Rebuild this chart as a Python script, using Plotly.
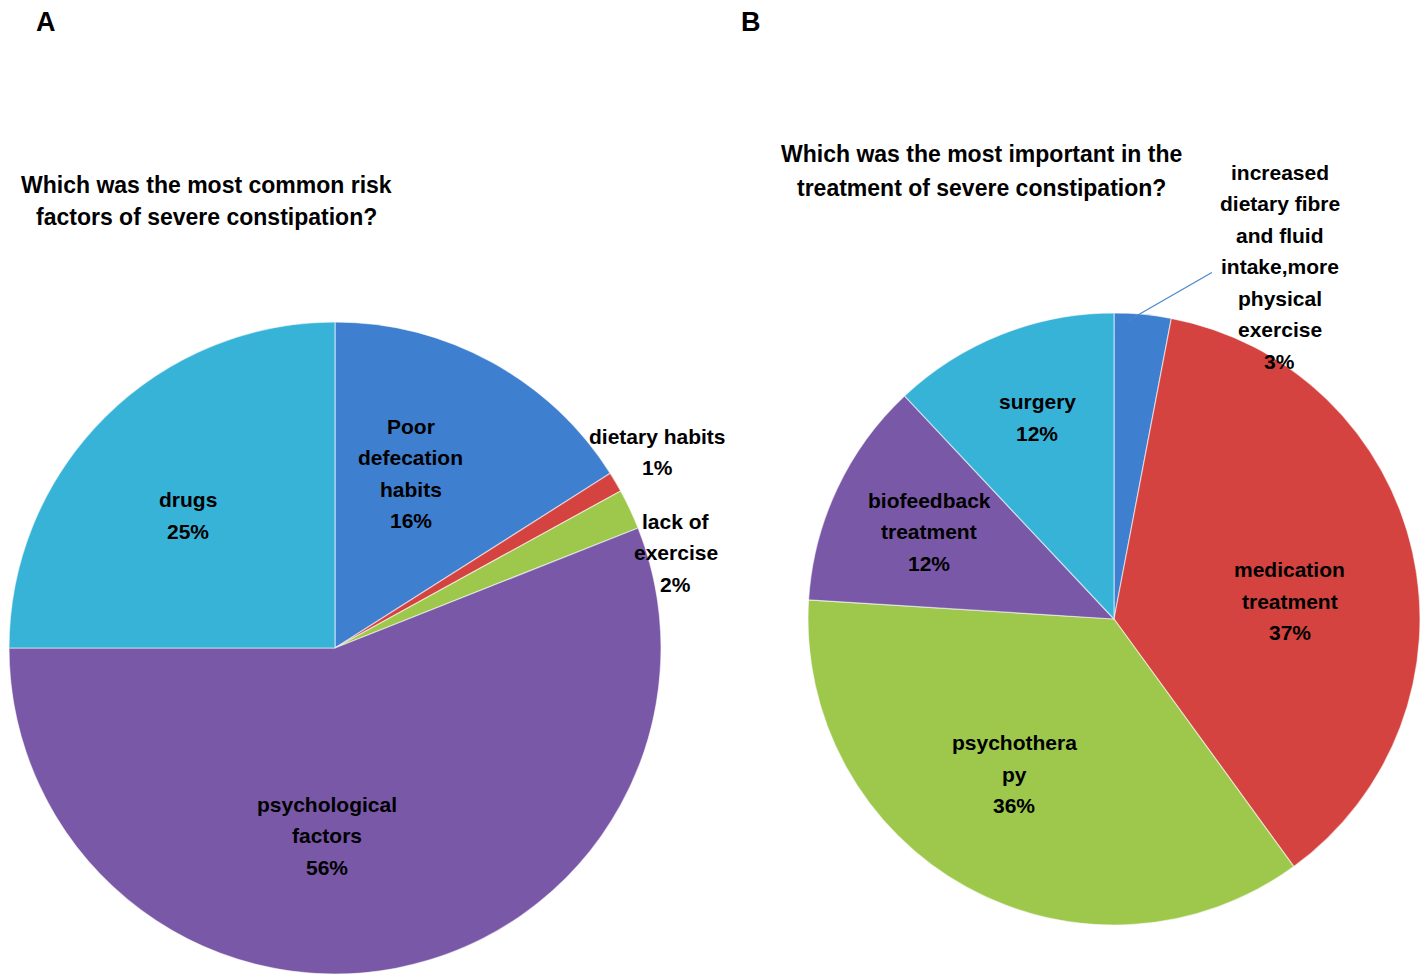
import math
import plotly.graph_objects as go

W, H = 1426, 976

# ---- data -----------------------------------------------------------------
risk_labels = ["Poor defecation habits", "dietary habits", "lack of exercise",
               "psychological factors", "drugs"]
risk_text = ["Poor<br>defecation<br>habits", "dietary habits", "lack of<br>exercise",
             "psychological<br>factors", "drugs"]
risk_values = [16, 1, 2, 56, 25]

treat_labels = ["increased dietary fibre and fluid intake,more physical exercise",
                "medication treatment", "psychotherapy",
                "biofeedback treatment", "surgery"]
treat_text = ["increased<br>dietary fibre<br>and fluid<br>intake,more<br>physical<br>exercise",
              "medication<br>treatment", "psychothera<br>py",
              "biofeedback<br>treatment", "surgery"]
treat_values = [3, 37, 36, 12, 12]

# ---- styling --------------------------------------------------------------
PALETTE = ["#3f7fd0", "#d4433f", "#9dc84c", "#7a58a8", "#38b3d8"]
FONT = "Liberation Sans, Arial, sans-serif"
LABEL_SIZE = 21
LINE_H = 31.5

# pie geometry in pixels: centre x, centre y, radius
PIE_A = (335, 648, 326)
PIE_B = (1114, 619, 306)

# label placement: (angle nudge in degrees, radius fraction)
RISK_LABEL_POS = [(-5.3, 0.584), (-0.7, 1.156), (9.6, 1.086), (13.2, 0.577), (-3.0, 0.607)]
TREAT_LABEL_POS = [(19.8, 1.273), (6.8, 0.578), (4.0, 0.603), (0.0, 0.668), (0.7, 0.705)]


def px(x):
    return x / W


def py(y):
    return 1 - y / H


def domain(geom):
    cx, cy, r = geom
    return dict(x=[px(cx - r), px(cx + r)], y=[py(cy + r), py(cy - r)])


def mid_angles(values):
    total = float(sum(values))
    out, acc = [], 0.0
    for v in values:
        out.append((acc + v / 2.0) / total * 360.0)
        acc += v
    return out


def polar(geom, angle_deg, rfrac):
    cx, cy, r = geom
    a = math.radians(angle_deg)
    return cx + rfrac * r * math.sin(a), cy - rfrac * r * math.cos(a)


annotations = []


def text_block(lines, x, y, size=LABEL_SIZE, spacing=LINE_H):
    n = len(lines)
    for i, line in enumerate(lines):
        yy = y + (i - (n - 1) / 2.0) * spacing
        annotations.append(dict(
            x=px(x), y=py(yy), xref="paper", yref="paper",
            text=f"<b>{line}</b>", showarrow=False,
            xanchor="center", yanchor="middle",
            font=dict(family=FONT, size=size, color="#000000"),
        ))


fig = go.Figure()

for labels, values, geom in [(risk_labels, risk_values, PIE_A),
                             (treat_labels, treat_values, PIE_B)]:
    fig.add_trace(go.Pie(
        labels=labels, values=values, sort=False, direction="clockwise",
        rotation=0, domain=domain(geom), textinfo="none", hoverinfo="label+percent",
        marker=dict(colors=PALETTE, line=dict(color="rgba(255,255,255,0.55)", width=1.2)),
        showlegend=False,
    ))

# slice labels
for texts, values, geom, pos in [(risk_text, risk_values, PIE_A, RISK_LABEL_POS),
                                 (treat_text, treat_values, PIE_B, TREAT_LABEL_POS)]:
    for t, v, mid, (nudge, rf) in zip(texts, values, mid_angles(values), pos):
        x, y = polar(geom, mid + nudge, rf)
        text_block(t.split("<br>") + [f"{v}%"], x, y)

# leader line for the small treatment slice
lead_mid = mid_angles(treat_values)[0]
sx, sy = polar(PIE_B, lead_mid - 2.8, 0.975)
lx, ly = polar(PIE_B, lead_mid + TREAT_LABEL_POS[0][0], TREAT_LABEL_POS[0][1])
shapes = [dict(type="line", xref="paper", yref="paper",
               x0=px(sx), y0=py(sy), x1=px(lx - 68), y1=py(ly + 6),
               line=dict(color="#4a86d0", width=1.2))]

# panel letters and titles
text_block(["A"], 46, 22, size=27)
text_block(["B"], 751, 22, size=27)
text_block(["Which was the most common risk", "factors of severe constipation?"],
           206, 201, size=23, spacing=33)
text_block(["Which was the most important in the", "treatment of severe constipation?"],
           981, 171, size=23, spacing=33)

fig.update_layout(
    width=W, height=H,
    margin=dict(l=0, r=0, t=0, b=0),
    paper_bgcolor="white", plot_bgcolor="white",
    annotations=annotations, shapes=shapes,
    font=dict(family=FONT),
)

fig.write_html("out.html")
